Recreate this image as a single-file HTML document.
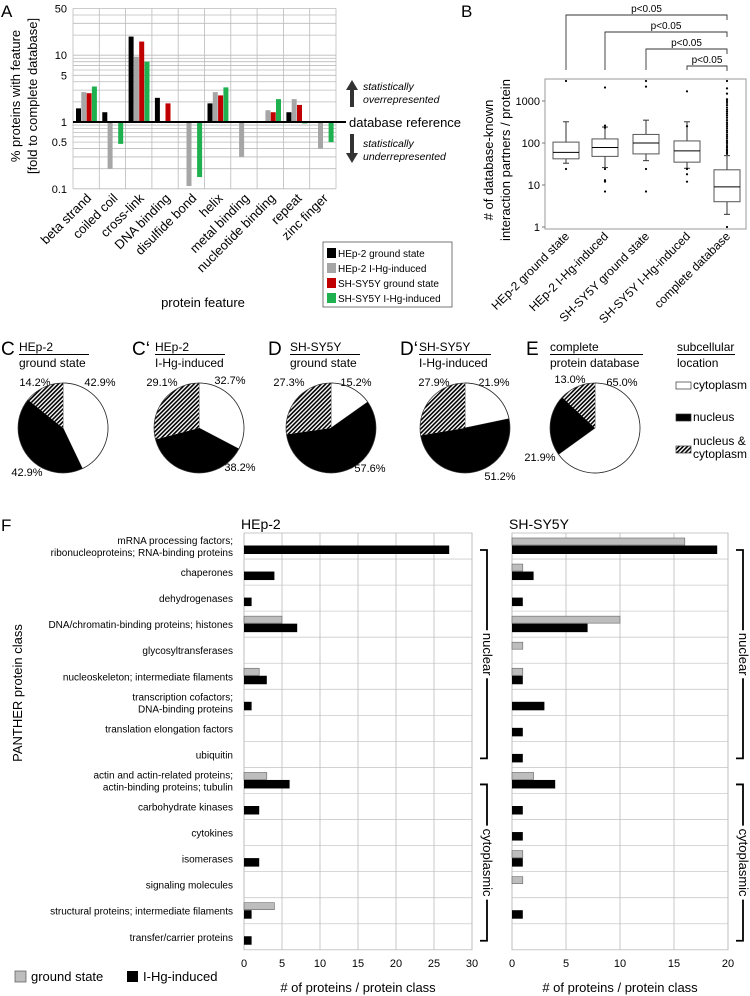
<!DOCTYPE html>
<html><head><meta charset="utf-8"><style>
body{margin:0;background:#fff}
svg{font-family:"Liberation Sans",Arial,sans-serif;display:block}
</style></head><body>
<svg id="fig" width="750" height="996" viewBox="0 0 750 996" xmlns="http://www.w3.org/2000/svg">
<defs>
<pattern id="hatch" width="3" height="3" patternUnits="userSpaceOnUse" patternTransform="rotate(45)">
<rect width="3" height="3" fill="#fff"/><rect width="1.6" height="3" fill="#000"/>
</pattern>
</defs>
<g id="panelA"></g>
<g id="panelB"></g>
<g id="panelC"></g>
<g id="panelF"></g>
</svg>
<script>
// ---------- Panel A data ----------
const featCats = ["beta strand","coiled coil","cross-link","DNA binding","disulfide bond","helix","metal binding","nucleotide binding","repeat","zinc finger"];
const hepGround = [1.6,1.4,19,2.3,null,1.9,null,null,1.4,null];
const hepInduced = [2.8,0.2,9.5,null,0.11,2.8,0.3,1.5,2.2,0.4];
const shGround = [2.7,null,16,1.9,null,2.5,null,1.4,1.8,null];
const shInduced = [3.4,0.47,8,null,0.15,3.3,null,2.2,0.95,0.5];
const aTicks = [50,10,5,1,0.5,0.1];
// ---------- Panel B data ----------
const boxCats = ["HEp-2 ground state","HEp-2 I-Hg-induced","SH-SY5Y ground state","SH-SY5Y I-Hg-induced","complete database"];
const boxQ1 = [42,48,55,35,4];
const boxMed = [60,78,100,65,9];
const boxQ3 = [105,125,160,112,23];
const whiskLo = [33,26,38,25,2];
const whiskHi = [320,240,350,320,50];
const outliers = [[24,3000],[2100,260,230,12,13,7,24],[3000,2200,24,7],[1700,250,24,18,12],[1,55,60,65,70,78,85,95,105,115,130,145,160,180,200,225,250,280,310,350,400,450,500,560,620,700,800,900,1000,1100,1500,2000,3000]];
const bTicks = [1000,100,10,1];
// ---------- Pie data ----------
const pieTitles = [["C","HEp-2","ground state"],["C‘","HEp-2","I-Hg-induced"],["D","SH-SY5Y","ground state"],["D‘","SH-SY5Y","I-Hg-induced"],["E","complete","protein database"]];
const pieCyto = [42.9,32.7,15.2,21.9,65.0];
const pieNuc = [42.9,38.2,57.6,51.2,21.9];
const pieBoth = [14.2,29.1,27.3,27.9,13.0];
// ---------- Panel F data ----------
const classes = [["mRNA processing factors;","ribonucleoproteins; RNA-binding proteins"],["chaperones"],["dehydrogenases"],["DNA/chromatin-binding proteins; histones"],["glycosyltransferases"],["nucleoskeleton; intermediate filaments"],["transcription cofactors;","DNA-binding proteins"],["translation elongation factors"],["ubiquitin"],["actin and actin-related proteins;","actin-binding proteins; tubulin"],["carbohydrate kinases"],["cytokines"],["isomerases"],["signaling molecules"],["structural proteins; intermediate filaments"],["transfer/carrier proteins"]];
const hepG = [0,0,0,5,0,2,0,0,0,3,0,0,0,0,4,0];
const hepI = [27,4,1,7,0,3,1,0,0,6,2,0,2,0,1,1];
const shG = [16,1,0,10,1,1,0,0,0,2,0,0,1,1,0,0];
const shI = [19,2,1,7,0,1,3,1,1,4,1,1,1,0,1,0];
const hepTicks = [0,5,10,15,20,25,30];
const shTicks = [0,5,10,15,20];

const NS="http://www.w3.org/2000/svg";
function mk(parent,tag,attrs,txt){const e=document.createElementNS(NS,tag);for(const k in attrs)e.setAttribute(k,attrs[k]);if(txt!==undefined)e.textContent=txt;parent.appendChild(e);return e;}

// ===== Panel A =====
(function(){
const g=document.getElementById('panelA');
const x0=73,x1=336,cw=(x1-x0)/featCats.length;
const yA=v=>122-66.8*Math.log10(v);
let t=mk(g,'text',{x:1,y:17,'font-size':17},'A');

[0.1,1,10].forEach(d=>{for(let m=1;m<10;m++){const v=d*m;if(v>50)continue;const l=mk(g,'line',{x1:x0,x2:x1,y1:yA(v),y2:yA(v),stroke:'#bbb','stroke-width':0.8});}});
for(let i=0;i<=featCats.length;i++){const l=mk(g,'line',{x1:x0+i*cw,x2:x0+i*cw,y1:yA(50),y2:yA(0.1),stroke:'#bbb','stroke-width':0.8});}
aTicks.forEach(v=>{const e=mk(g,'text',{x:67,y:yA(v)+4,'font-size':11,'text-anchor':'end'},String(v));});
const series=[hepGround,hepInduced,shGround,shInduced],cols=['#000','#a6a6a6','#c00000','#1fb04f'];
series.forEach((s,j)=>s.forEach((v,i)=>{if(v==null)return;const y1=yA(1),y2=yA(v);const r=mk(g,'rect',{x:x0+i*cw+3+j*5.3,y:Math.min(y1,y2),width:5,height:Math.abs(y2-y1),fill:cols[j]});}));
let l=mk(g,'line',{x1:x0,x2:346,y1:yA(1),y2:yA(1),stroke:'#000','stroke-width':2});
featCats.forEach((c,i)=>{const cx=x0+i*cw+cw/2+6;const e=mk(g,'text',{x:cx,y:199,'font-size':13,'text-anchor':'end',transform:`rotate(-45 ${cx} 199)`},c);});
let yl=mk(g,'text',{x:0,y:0,'font-size':13,'text-anchor':'middle',transform:'translate(20 96) rotate(-90)'},'% proteins with feature');
yl=mk(g,'text',{x:0,y:0,'font-size':13,'text-anchor':'middle',transform:'translate(37 96) rotate(-90)'},'[fold to complete database]');
t=mk(g,'text',{x:203,y:307,'font-size':13,'text-anchor':'middle'},'protein feature');
t=mk(g,'text',{x:349,y:127,'font-size':13},'database reference');
let p=mk(g,'path',{d:'M352 80 L358 90 L354 90 L354 107 L350 107 L350 90 L346 90 Z',fill:'#333'});
p=mk(g,'path',{d:'M352 163 L358 153 L354 153 L354 134 L350 134 L350 153 L346 153 Z',fill:'#333'});
[['statistically',90],['overrepresented',103],['statistically',147],['underrepresented',160]].forEach(a=>{const e=mk(g,'text',{x:363,y:a[1],'font-size':10.5,'font-style':'italic'},a[0]);});
let r=mk(g,'rect',{x:323,y:242,width:129,height:65,fill:'#fff',stroke:'#555','stroke-width':0.8});
['HEp-2 ground state','HEp-2 I-Hg-induced','SH-SY5Y ground state','SH-SY5Y I-Hg-induced'].forEach((s,j)=>{const y=248+j*15;const q=mk(g,'rect',{x:327,y:y,width:9,height:10,fill:cols[j]});const e=mk(g,'text',{x:338,y:y+9,'font-size':10},s);});
})();

// ===== Panel B =====
(function(){
const g=document.getElementById('panelB');
const x0=545,x1=746,yB=v=>227-42*Math.log10(v);
const cx=[566,605,646,687,727];
let t=mk(g,'text',{x:461,y:17,'font-size':17},'B');
let r=mk(g,'rect',{x:x0,y:79,width:x1-x0,height:150,fill:'none',stroke:'#999','stroke-width':1});
bTicks.forEach(v=>{const e=mk(g,'text',{x:540,y:yB(v)+4,'font-size':11,'text-anchor':'end'},String(v));const l=mk(g,'line',{x1:x0-3,x2:x0,y1:yB(v),y2:yB(v),stroke:'#777'});});
boxCats.forEach((c,i)=>{
 const x=cx[i];
 let l=mk(g,'line',{x1:x,x2:x,y1:yB(whiskHi[i]),y2:yB(boxQ3[i]),stroke:'#333'});
 l=mk(g,'line',{x1:x,x2:x,y1:yB(boxQ1[i]),y2:yB(whiskLo[i]),stroke:'#333'});
 [whiskHi[i],whiskLo[i]].forEach(v=>{const c2=mk(g,'line',{x1:x-3,x2:x+3,y1:yB(v),y2:yB(v),stroke:'#333'});});
 const b=mk(g,'rect',{x:x-13,y:yB(boxQ3[i]),width:26,height:yB(boxQ1[i])-yB(boxQ3[i]),fill:'#fff',stroke:'#555'});
 l=mk(g,'line',{x1:x-13,x2:x+13,y1:yB(boxMed[i]),y2:yB(boxMed[i]),stroke:'#000'});
 outliers[i].forEach(v=>{const o=mk(g,'circle',{cx:x,cy:yB(v),r:1.1,fill:'#000'});});
 const e=mk(g,'text',{x:x+4,y:237,'font-size':12,'text-anchor':'end',transform:`rotate(-45 ${x+4} 237)`},c);
});
[[0,15],[1,32],[2,49],[3,66]].forEach(a=>{const x=cx[a[0]],y=a[1];const p=mk(g,'path',{d:`M${x} 70 L${x} ${y} L727 ${y} L727 ${y+5}`,fill:'none',stroke:'#333','stroke-width':0.9});const e=mk(g,'text',{x:(x+727)/2,y:y-3,'font-size':10,'text-anchor':'middle'},'p<0.05');});
let yl=mk(g,'text',{x:0,y:0,'font-size':13,'text-anchor':'middle',transform:'translate(493 160) rotate(-90)'},'# of database-known');
yl=mk(g,'text',{x:0,y:0,'font-size':13,'text-anchor':'middle',transform:'translate(510 160) rotate(-90)'},'interaction partners / protein');
})();

// ===== Pies =====
(function(){
const g=document.getElementById('panelC');
const cxs=[63,199,331,465,595],cy=428,R=45;
const tx=[[1,19],[132,155],[268,290],[400,419],[526,550]];
const lbl=[[[100,386],[27,476],[35,386]],[[230,384],[240,471],[162,386]],[[356,386],[370,472],[289,386]],[[494,386],[500,480],[434,386]],[[622,386],[540,461],[570,383]]];
function pt(cx,a){return [cx+R*Math.sin(a),cy-R*Math.cos(a)];}
pieTitles.forEach((tt,i)=>{
 let e=mk(g,'text',{x:tx[i][0],y:355,'font-size':19},tt[0]);
 e=mk(g,'text',{x:tx[i][1],y:351,'font-size':12},tt[1]);
 let l=mk(g,'line',{x1:tx[i][1],x2:tx[i][1]+(i==4?93:i==3?72:70),y1:354.5,y2:354.5,stroke:'#000','stroke-width':0.9});
 e=mk(g,'text',{x:tx[i][1],y:367,'font-size':12},tt[2]);
 const vals=[pieCyto[i],pieNuc[i],pieBoth[i]],fills=['#fff','#000','url(#hatch)'];
 const tot=vals.reduce((a,b)=>a+b,0);let a0=0;
 vals.forEach((v,k)=>{const a1=a0+v/tot*2*Math.PI;const p0=pt(cxs[i],a0),p1=pt(cxs[i],a1);const big=(a1-a0)>Math.PI?1:0;
  const p=mk(g,'path',{d:`M${cxs[i]} ${cy} L${p0[0]} ${p0[1]} A${R} ${R} 0 ${big} 1 ${p1[0]} ${p1[1]} Z`,fill:fills[k],stroke:k==0?'#333':'none','stroke-width':0.7});
  const q=lbl[i][k];const t2=mk(g,'text',{x:q[0],y:q[1],'font-size':11,'text-anchor':'middle'},v.toFixed(1)+'%');
  a0=a1;});
 const c=mk(g,'circle',{cx:cxs[i],cy:cy,r:R,fill:'none',stroke:'#333','stroke-width':0.7});
});
let e=mk(g,'text',{x:677,y:351,'font-size':12},'subcellular');
let l=mk(g,'line',{x1:677,x2:735,y1:354.5,y2:354.5,stroke:'#000','stroke-width':0.9});
e=mk(g,'text',{x:677,y:367,'font-size':12},'location');
[['#fff',382,[['cytoplasm',389]]],['#000',414,[['nucleus',421]]],['url(#hatch)',446,[['nucleus &',445],['cytoplasm',458]]]].forEach(a=>{const r=mk(g,'rect',{x:676,y:a[1],width:15,height:7,fill:a[0],stroke:'#333','stroke-width':0.7});a[2].forEach(s=>{const t3=mk(g,'text',{x:693,y:s[1],'font-size':12},s[0]);});});
})();

// ===== Panel F =====
(function(){
const g=document.getElementById('panelF');
const top=533,rh=26.05,bot=top+rh*classes.length;
let t=mk(g,'text',{x:1,y:531,'font-size':17},'F');
function chart(x0,x1,max,ticks,gv,iv,title,bx,name){
 const xs=v=>x0+(x1-x0)*v/max;
 let e=mk(g,'text',{x:x0-3,y:529,'font-size':14},title);
 const r=mk(g,'rect',{x:x0,y:top,width:x1-x0,height:bot-top,fill:'#fff',stroke:'#bbb','stroke-width':0.8});
 for(let i=1;i<classes.length;i++){const l=mk(g,'line',{x1:x0,x2:x1,y1:top+i*rh,y2:top+i*rh,stroke:'#ccc','stroke-width':0.8});}
 ticks.forEach(v=>{const l=mk(g,'line',{x1:xs(v),x2:xs(v),y1:top,y2:bot,stroke:'#bbb','stroke-width':0.8});const e2=mk(g,'text',{x:xs(v),y:967,'font-size':11,'text-anchor':'middle'},String(v));});
 gv.forEach((v,i)=>{if(!v)return;const b=mk(g,'rect',{x:x0,y:top+i*rh+5,width:xs(v)-x0,height:7,fill:'#bdbdbd',stroke:'#666','stroke-width':0.6});});
 iv.forEach((v,i)=>{if(!v)return;const b=mk(g,'rect',{x:x0,y:top+i*rh+12.5,width:xs(v)-x0,height:8.5,fill:'#000'});});
 e=mk(g,'text',{x:(x0+x1)/2,y:992,'font-size':13,'text-anchor':'middle'},'# of proteins / protein class');
 const y0=top+17,y8=top+8*rh+17,y9=top+9*rh+17,y15=top+15*rh+17;
 [[y0,y8,'nuclear'],[y9,y15,'cytoplasmic']].forEach(a=>{const mid=(a[0]+a[1])/2,half=a[2]=='nuclear'?20:33;
  const p=mk(g,'path',{d:`M${bx-7} ${a[0]} L${bx} ${a[0]} L${bx} ${mid-half-4} M${bx} ${mid+half+4} L${bx} ${a[1]} L${bx-7} ${a[1]}`,fill:'none',stroke:'#000','stroke-width':1.8});
  const t2=mk(g,'text',{x:0,y:0,'font-size':13,'text-anchor':'middle',transform:`translate(${bx-4} ${mid}) rotate(90)`},a[2]);});
}
chart(244,472,30,hepTicks,hepG,hepI,'HEp-2',487,'hep2');
chart(512,728,20,shTicks,shG,shI,'SH-SY5Y',743,'shsy5y');
classes.forEach((c,i)=>{const cy=top+i*rh+rh/2;const n=c.length;c.forEach((s,k)=>{const e=mk(g,'text',{x:233,y:cy+4+(k-(n-1)/2)*12,'font-size':10,'text-anchor':'end'},s);});});
let yl=mk(g,'text',{x:0,y:0,'font-size':13,'text-anchor':'middle',transform:'translate(22 693) rotate(-90)'},'PANTHER protein class');
let r=mk(g,'rect',{x:15,y:971,width:11,height:11,fill:'#bdbdbd',stroke:'#555','stroke-width':0.7});
t=mk(g,'text',{x:31,y:981,'font-size':13},'ground state');
r=mk(g,'rect',{x:127,y:971,width:11,height:11,fill:'#000'});
t=mk(g,'text',{x:143,y:981,'font-size':13},'I-Hg-induced');
})();
</script>
</body></html>
